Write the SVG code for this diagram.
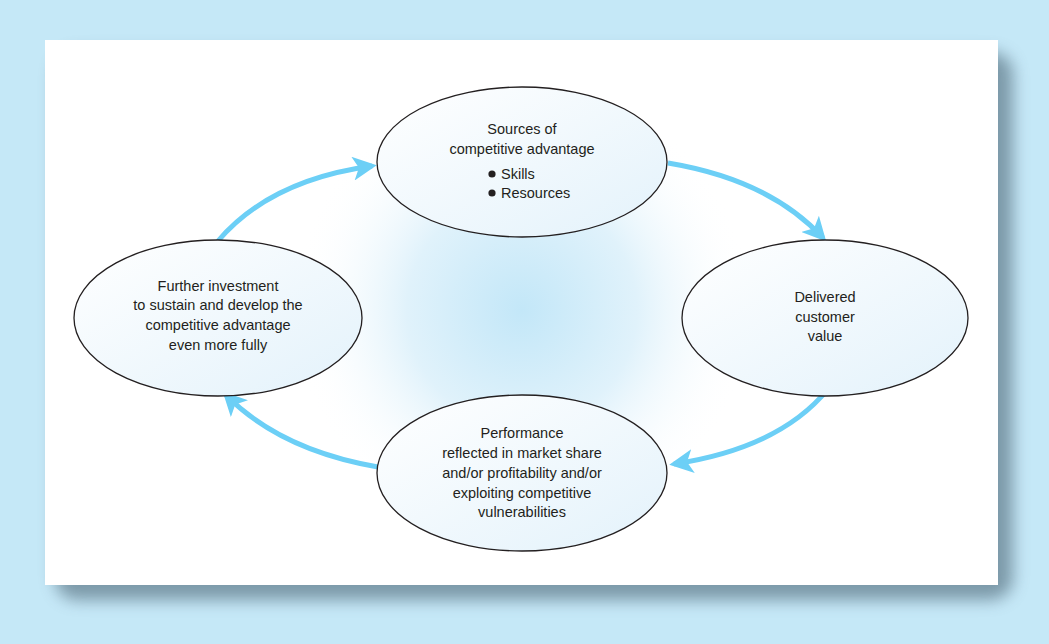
<svg xmlns="http://www.w3.org/2000/svg" width="1049" height="644" viewBox="0 0 1049 644">
<defs>
<radialGradient id="glow" cx="522" cy="310" r="230" gradientUnits="userSpaceOnUse">
<stop offset="0" stop-color="#c3e7f8"/>
<stop offset="0.5" stop-color="#e0f2fb"/>
<stop offset="1" stop-color="#ffffff" stop-opacity="0"/>
</radialGradient>
<linearGradient id="ell" x1="0" y1="0" x2="1" y2="1">
<stop offset="0" stop-color="#ffffff"/>
<stop offset="1" stop-color="#e3f2fb"/>
</linearGradient>
<filter id="sh" x="-10%" y="-10%" width="120%" height="120%">
<feGaussianBlur stdDeviation="8"/>
</filter>
<marker id="ah" viewBox="0 0 10 10" refX="8" refY="5" markerWidth="4.8" markerHeight="4.8" orient="auto" markerUnits="strokeWidth">
<path d="M0,0 L10,5 L0,10 L2.5,5 Z" fill="#6ccff6"/>
</marker>
</defs>
<style>
.node ellipse{fill:url(#ell);stroke:#231f20;stroke-width:1.3}
.node text{font-family:"Liberation Sans",Arial,sans-serif;font-size:14.5px;fill:#231f20;text-anchor:middle}
.conn path{fill:none;stroke:#6ccff6;stroke-width:5;marker-end:url(#ah)}
</style>
<rect x="0" y="0" width="1049" height="644" fill="#c5e8f7"/>
<rect x="55" y="52" width="958" height="548" rx="22" fill="#6f8c9b" opacity="0.85" filter="url(#sh)"/>
<rect x="45" y="40" width="953" height="545" fill="#ffffff"/>
<rect x="45" y="40" width="953" height="545" fill="url(#glow)"/>
<g class="conn">
<path d="M218,241 Q270,180 372,166"/>
<path d="M668,163 Q770,180 823,238"/>
<path d="M828,389 Q780,448 674,464"/>
<path d="M378,467 Q280,450 226,395"/>
</g>
<g class="node" id="sources">
<ellipse cx="522" cy="162" rx="145" ry="75"/>
<text x="522" y="134">Sources of</text>
<text x="522" y="154">competitive advantage</text>
<circle cx="492" cy="174" r="3.6" fill="#231f20"/>
<text x="501" y="179" style="text-anchor:start">Skills</text>
<circle cx="492" cy="193" r="3.6" fill="#231f20"/>
<text x="501" y="198" style="text-anchor:start">Resources</text>
</g>
<g class="node" id="value">
<ellipse cx="825" cy="318" rx="143" ry="78"/>
<text x="825" y="302">Delivered</text>
<text x="825" y="322">customer</text>
<text x="825" y="341">value</text>
</g>
<g class="node" id="performance">
<ellipse cx="522" cy="473" rx="145" ry="78"/>
<text x="522" y="438">Performance</text>
<text x="522" y="458">reflected in market share</text>
<text x="522" y="478">and/or profitability and/or</text>
<text x="522" y="498">exploiting competitive</text>
<text x="522" y="517">vulnerabilities</text>
</g>
<g class="node" id="investment">
<ellipse cx="218" cy="318" rx="144" ry="78"/>
<text x="218" y="291">Further investment</text>
<text x="218" y="310">to sustain and develop the</text>
<text x="218" y="330">competitive advantage</text>
<text x="218" y="350">even more fully</text>
</g>
</svg>
